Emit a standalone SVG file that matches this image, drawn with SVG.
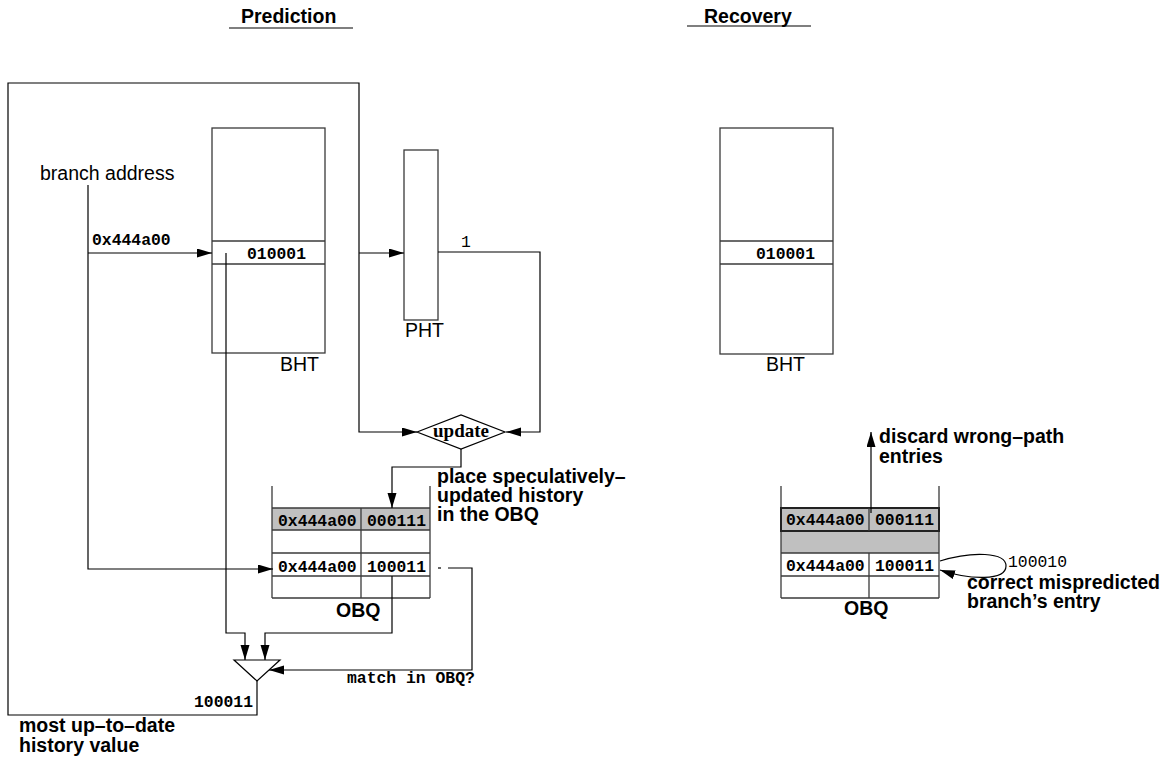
<svg xmlns="http://www.w3.org/2000/svg" width="1167" height="759" viewBox="0 0 1167 759">
<style>
.box{fill:none;stroke:#3a3a3a;stroke-width:1.3}
.w{fill:#fff}
.g{fill:#c0c0c0}
.c{fill:none;stroke:#000;stroke-width:1.2}
.h{font-family:"Liberation Sans",Arial,sans-serif;font-weight:bold;font-size:19.5px;fill:#000}
.n{font-family:"Liberation Sans",Arial,sans-serif;font-size:19.5px;fill:#000}
.m{font-family:"Liberation Mono","Courier New",monospace;font-weight:bold;font-size:16.4px;fill:#000}
.mr{font-family:"Liberation Mono","Courier New",monospace;font-size:16.4px;fill:#000}
.t{font-family:"Liberation Serif","Times New Roman",serif;font-weight:bold;font-size:19px;fill:#000}
</style>
<defs>
<marker id="a" markerWidth="15" markerHeight="10" refX="15" refY="4.5" orient="auto" markerUnits="userSpaceOnUse">
<path d="M0,0 L15,4.5 L0,9 z" fill="#000"/>
</marker>
</defs>

<g id="headings">
<text class="h" x="241" y="23">Prediction</text>
<line x1="229" y1="28" x2="353" y2="28" stroke="#000" stroke-width="1.2"/>
<text class="h" x="704" y="23">Recovery</text>
<line x1="687" y1="26" x2="811" y2="26" stroke="#000" stroke-width="1.2"/>
</g>

<g id="bht-pred">
<rect class="box" x="212" y="128" width="113" height="225"/>
<line class="box" x1="212" y1="241" x2="325" y2="241"/>
<line class="box" x1="212" y1="264" x2="325" y2="264"/>
<text class="m" x="247" y="259">010001</text>
<text class="n" x="280" y="371">BHT</text>
</g>

<g id="pht">
<rect class="box" x="404" y="150" width="34" height="170"/>
<text class="n" x="405" y="337">PHT</text>
</g>

<g id="update">
<polygon points="417,432 461,415 505,432 461,449" fill="#fff" stroke="#000" stroke-width="1.2"/>
<text class="t" x="461" y="437" text-anchor="middle">update</text>
</g>

<g id="obq-pred">
<rect class="g" x="272" y="508" width="158" height="22"/>
<line class="box" x1="272" y1="486" x2="272" y2="598"/>
<line class="box" x1="430" y1="486" x2="430" y2="598"/>
<line class="box" x1="272" y1="508" x2="430" y2="508"/>
<line class="box" x1="272" y1="530" x2="430" y2="530"/>
<line class="box" x1="272" y1="553" x2="430" y2="553"/>
<line class="box" x1="272" y1="576" x2="430" y2="576"/>
<line class="box" x1="272" y1="598" x2="430" y2="598"/>
<line class="box" x1="361" y1="508" x2="361" y2="598"/>
<text class="m" x="278" y="526">0x444a00</text>
<text class="m" x="367" y="526">000111</text>
<text class="m" x="278" y="572">0x444a00</text>
<text class="m" x="367" y="572">100011</text>
<text class="h" x="336" y="617">OBQ</text>
</g>

<g id="selector">
<polygon points="234,660 280,660 257,681" fill="#fff" stroke="#000" stroke-width="1.2"/>
</g>

<g id="bht-rec">
<rect class="box" x="720" y="128" width="113" height="226"/>
<line class="box" x1="720" y1="241" x2="833" y2="241"/>
<line class="box" x1="720" y1="264" x2="833" y2="264"/>
<text class="m" x="756" y="259">010001</text>
<text class="n" x="766" y="371">BHT</text>
</g>

<g id="obq-rec">
<rect x="781" y="508" width="158" height="45" fill="#c0c0c0"/>
<line class="box" x1="781" y1="486" x2="781" y2="598"/>
<line class="box" x1="939" y1="486" x2="939" y2="598"/>
<rect x="781" y="508" width="158" height="23" fill="none" stroke="#222" stroke-width="2"/>
<line class="box" x1="781" y1="553" x2="939" y2="553"/>
<line class="box" x1="781" y1="576" x2="939" y2="576"/>
<line class="box" x1="781" y1="598" x2="939" y2="598"/>
<line class="box" x1="869" y1="508" x2="869" y2="531"/>
<line class="box" x1="869" y1="553" x2="869" y2="598"/>
<text class="m" x="786" y="525">0x444a00</text>
<text class="m" x="875" y="525">000111</text>
<text class="m" x="786" y="571">0x444a00</text>
<text class="m" x="875" y="571">100011</text>
<text class="h" x="844" y="615">OBQ</text>
</g>

<g id="connectors">
<!-- big feedback frame -->
<path class="c" d="M257,681 V715 H8 V83 H359 V432 H417" marker-end="url(#a)"/>
<line class="c" x1="359" y1="253" x2="404" y2="253" marker-end="url(#a)"/>
<!-- PHT output -->
<path class="c" d="M438,252 H540 V432 H506" marker-end="url(#a)"/>
<!-- branch address -->
<path class="c" d="M88,185 V569 H273" marker-end="url(#a)"/>
<line class="c" x1="88" y1="253" x2="212" y2="253" marker-end="url(#a)"/>
<!-- update to OBQ -->
<path class="c" d="M461,449 V467 H392 V508" marker-end="url(#a)"/>
<!-- BHT to selector -->
<path class="c" d="M226,253 V633 H245 V660" marker-end="url(#a)"/>
<!-- OBQ to selector -->
<path class="c" d="M392,576 V633 H265 V660" marker-end="url(#a)"/>
<!-- match -->
<line class="c" x1="438" y1="568" x2="441" y2="568"/>
<path class="c" d="M448,568 H472 V670 H269" marker-end="url(#a)"/>
<!-- recovery -->
<line class="c" x1="871" y1="513" x2="871" y2="432" marker-end="url(#a)"/>
<path class="c" d="M940,561 C972,551 1006,552 1006,566 C1006,581 970,580 940,570" marker-end="url(#a)"/>
</g>

<g id="labels">
<text class="n" x="40" y="180">branch address</text>
<text class="m" x="92" y="245">0x444a00</text>
<text class="mr" x="461" y="247">1</text>
<text class="h" x="437" y="483">place speculatively–</text>
<text class="h" x="437" y="502">updated history</text>
<text class="h" x="437" y="521">in the OBQ</text>
<text class="m" x="347" y="683">match in OBQ?</text>
<text class="m" x="194" y="707">100011</text>
<text class="h" x="19" y="732">most up–to–date</text>
<text class="h" x="19" y="752">history value</text>
<text class="h" x="879" y="443">discard wrong–path</text>
<text class="h" x="879" y="463">entries</text>
<text class="mr" x="1008" y="567">100010</text>
<text class="h" x="967" y="589">correct mispredicted</text>
<text class="h" x="967" y="608">branch’s entry</text>
</g>
</svg>
